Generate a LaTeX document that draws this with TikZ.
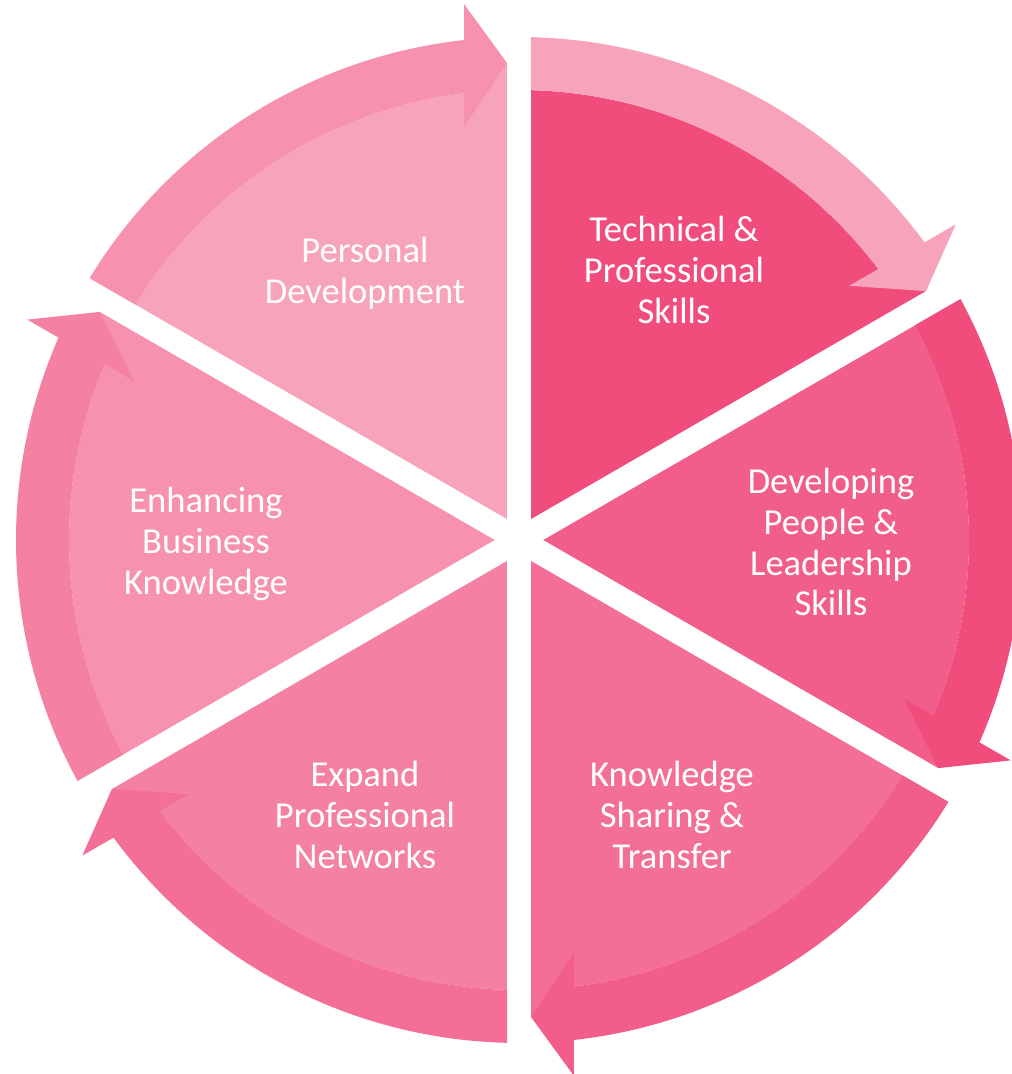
\documentclass[tikz,border=0pt]{standalone}
\usepackage{fontspec}
\setmainfont{Carlito}
\usetikzlibrary{calc}

\definecolor{pinkA}{HTML}{F04C7C}
\definecolor{pinkB}{HTML}{F15E89}
\definecolor{pinkC}{HTML}{F36F95}
\definecolor{pinkD}{HTML}{F481A2}
\definecolor{pinkE}{HTML}{F692AE}
\definecolor{pinkF}{HTML}{F7A4BB}

% pie slice from angle #2 down to angle #3, filled up to the arrow tip
\def\cyclepie[#1](#2:#3){\fill[#1] (0,0) -- (#2:\rin) arc[start angle=#2, end angle={#3+asin(\barb/\rin)}, radius=\rin] -- ($(#3:\rmid)+(#3+90:\gap)$) -- (#3:\rmid) -- cycle;}
% curved band from angle #2 down to angle #3, head at #3
\def\cyclearrow[#1](#2:#3){\fill[#1] ({#2-asin(\gap/\rout)}:\rout) arc[start angle={#2-asin(\gap/\rout)}, end angle={#3+asin(\barb/\rout)}, radius=\rout] -- ($(#3:\rhi)+(#3+90:\barb)$) -- ($(#3:\rmid)+(#3+90:\gap)$) -- ($(#3:\rlo)+(#3+90:\barb)$) -- ({#3+asin(\barb/\rin)}:\rin) arc[start angle={#3+asin(\barb/\rin)}, end angle={#2-asin(\gap/\rin)}, radius=\rin] -- cycle;}

\begin{document}
\begin{tikzpicture}[x=0.2mm,y=0.2mm,
		lbl/.style={text=white, align=center, font=\fontsize{20.8}{23.3}\selectfont}]
			%%%%% START %%%%%
			\def\rin{450}
			\def\rout{503}
			\def\rlo{413}
			\def\rmid{477}
			\def\rhi{536}
			\def\gap{12}
			\def\barb{55}
			\def\gapw{4.8mm}
			
			\useasboundingbox (-519,-534) rectangle (493,540);
			
			\cyclepie[pinkA](90:30)
			\cyclepie[pinkB](30:-30)
			\cyclepie[pinkC](-30:-90)
			\cyclepie[pinkD](-90:-150)
			\cyclepie[pinkE](210:150)
			\cyclepie[pinkF](150:90)
			
			\draw[white, line width=\gapw] (90:\rhi) -- (-90:\rhi);
			\draw[white, line width=\gapw] (30:\rhi) -- (210:\rhi);
			\draw[white, line width=\gapw] (150:\rhi) -- (-30:\rhi);
			
			\cyclearrow[pinkF](90:30)
			\cyclearrow[pinkA](30:-30)
			\cyclearrow[pinkB](-30:-90)
			\cyclearrow[pinkC](-90:-150)
			\cyclearrow[pinkD](210:150)
			\cyclearrow[pinkE](150:90)
			
			\node[lbl] (tech) at (155,270) {Technical \&\\Professional\\Skills};
			\node[lbl] (people) at (312,-2) {Developing\\People \&\\Leadership\\Skills};
			\node[lbl] (sharing) at (153,-275) {Knowledge\\Sharing \&\\Transfer};
			\node[lbl] (networks) at (-154,-275) {Expand\\Professional\\Networks};
			\node[lbl] (business) at (-313,-4) {Enhancing\\Business\\Knowledge};
			\node[lbl] (personal) at (-154,267) {Personal\\Development};
			%%%%% END %%%%%
\end{tikzpicture}
\end{document}
